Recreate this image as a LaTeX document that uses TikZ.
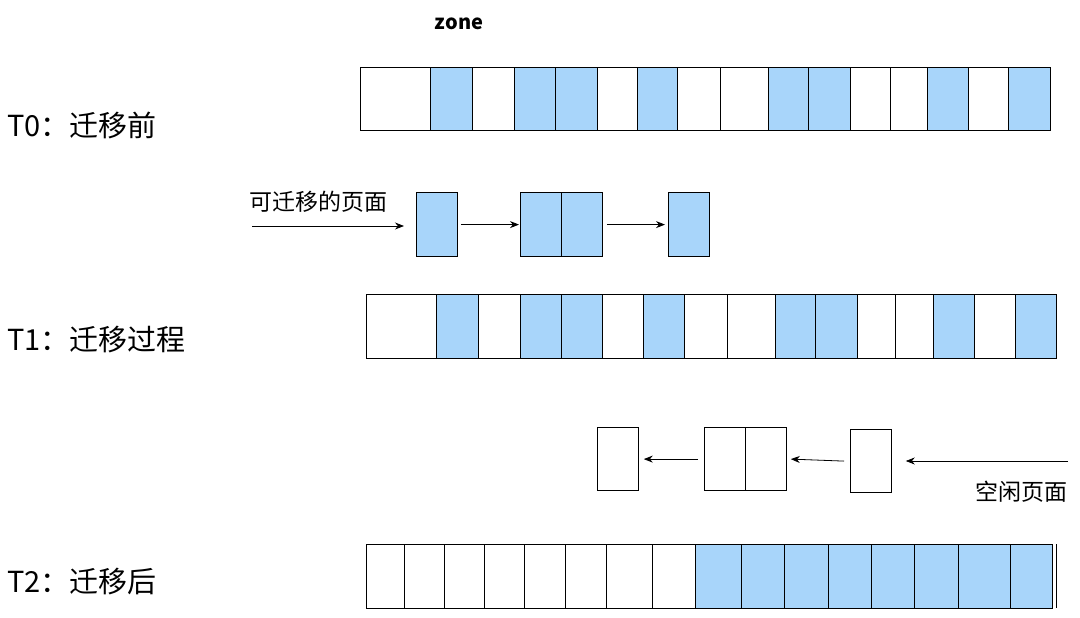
\documentclass[tikz,border=0pt]{standalone}
\usepackage{fontspec}
\setmainfont{Noto Sans CJK SC}
\usepackage{tikz}
\usetikzlibrary{arrows.meta,positioning}
\definecolor{pageblue}{HTML}{A8D5FA}
\tikzset{
  cell/.style={draw,thick,inner sep=0pt,anchor=south west},
  free/.style={cell,fill=white},
  used/.style={cell,fill=pageblue},
  link/.style={-{Stealth[length=9pt,width=7pt]},thick},
  rowlabel/.style={anchor=west,font=\fontsize{29}{32}\selectfont}
}
\begin{document}
\begin{tikzpicture}[x=1pt,y=-1pt]
            \useasboundingbox (0,0) rectangle (1080,618);
            % title
            \node (zone) at (459,24) {\fontsize{20}{22}\selectfont\bfseries zone};
            
            % row labels
            \node[rowlabel] (t0) at (4,125) {T0：迁移前};
            \node[rowlabel] (t1) at (4,340) {T1：迁移过程};
            \node[rowlabel] (t2) at (4,582) {T2：迁移后};
            
            % T0 zone
            \foreach \a/\b/\s [count=\i] in {360/430/free,430/472/used,472/514/free,514/555/used,555/597/used,597/637/free,637/677/used,677/720/free,720/768/free,768/808/used,808/850/used,850/890/free,890/927/free,927/968/used,968/1008/free,1008/1050/used}
              \node[\s,minimum width=\b-\a,minimum height=63] (a\i) at (\a,131) {};
            
            % movable pages
            \node[used,minimum width=41,minimum height=64] (m1) at (416,257) {};
            \node[used,minimum width=41,minimum height=64] (m2) at (520,257) {};
            \node[used,minimum width=41,minimum height=64] (m3) at (561,257) {};
            \node[used,minimum width=41,minimum height=64] (m4) at (668,257) {};
            \node (mlabel) at (318,202) {\fontsize{23}{25}\selectfont 可迁移的页面};
            \coordinate (min) at (252,226);
            \draw[link] (min) -- ([xshift=-12pt]m1.west |- min);
            \draw[link] ([xshift=3pt]m1.east) -- ([xshift=-1pt]m2.west);
            \draw[link] ([xshift=4pt]m3.east) -- ([xshift=-3pt]m4.west);
            
            % T1 zone
            \foreach \a/\b/\s [count=\i] in {366/436/free,436/478/used,478/520/free,520/561/used,561/602/used,602/643/free,643/684/used,684/727/free,727/775/free,775/815/used,815/857/used,857/895/free,895/933/free,933/974/used,974/1015/free,1015/1056/used}
              \node[\s,minimum width=\b-\a,minimum height=64] (b\i) at (\a,359) {};
            
            % free pages
            \node[free,minimum width=41,minimum height=63] (f1) at (597,491) {};
            \node[free,minimum width=41,minimum height=63] (f2) at (704,491) {};
            \node[free,minimum width=41,minimum height=63] (f3) at (745,491) {};
            \node[free,minimum width=41,minimum height=63] (f4) at (850,493) {};
            \node (flabel) at (1021,492) {\fontsize{23}{25}\selectfont 空闲页面};
            \coordinate (fin) at (1068,461);
            \draw[link] (fin) -- ([xshift=14pt]f4.east |- fin);
            \draw[link] ([xshift=-6pt]f4.west) -- ([xshift=4pt]f3.east);
            \draw[link] ([xshift=-6pt]f2.west) -- ([xshift=5pt]f1.east);
            
            % T2 zone
            \foreach \a/\b/\s [count=\i] in {366/404/free,404/444/free,444/484/free,484/524/free,524/565/free,565/606/free,606/652/free,652/695/free,695/741/used,741/784/used,784/828/used,828/871/used,871/914/used,914/958/used,958/1010/used,1010/1052/used}
              \node[\s,minimum width=\b-\a,minimum height=64] (c\i) at (\a,609) {};
            \draw[thick] (c16.north east) ++(4,0) -- ++(0,64);
\end{tikzpicture}
\end{document}
